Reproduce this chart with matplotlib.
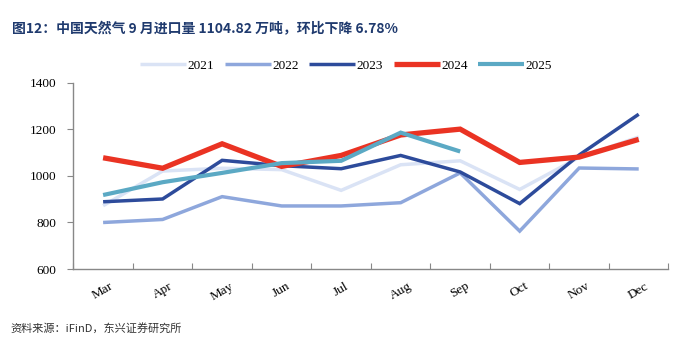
import matplotlib
matplotlib.use("Agg")
import matplotlib.pyplot as plt

# 月份与各年进口量（万吨）
months = ["Mar", "Apr", "May", "Jun", "Jul", "Aug", "Sep", "Oct", "Nov", "Dec"]
y2021 = [872, 1021, 1033, 1027, 938, 1048, 1065, 942, 1080, 1167]
y2022 = [800, 813, 911, 871, 871, 885, 1013, 763, 1034, 1030]
y2023 = [889, 901, 1067, 1044, 1031, 1088, 1017, 881, 1090, 1265]
y2024 = [1078, 1033, 1138, 1041, 1088, 1176, 1201, 1058, 1081, 1157]
y2025 = [918, 973, 1013, 1055, 1065, 1186, 1105]

series = [
    ("2021", y2021, "#dae3f5", 2.5),
    ("2022", y2022, "#8ea7dc", 2.5),
    ("2023", y2023, "#2d4b9b", 2.5),
    ("2024", y2024, "#ea3323", 3.8),
    ("2025", y2025, "#5ba9c4", 3.0),
]

serif = "Liberation Serif"

fig = plt.figure(figsize=(6.92, 3.38), dpi=100)
ax = fig.add_axes([0.106, 0.204, 0.860, 0.551])

x = list(range(len(months)))
for name, vals, color, lw in series:
    ax.plot(x[:len(vals)], vals, color=color, linewidth=lw, label=name,
            solid_joinstyle="miter", solid_capstyle="butt")

ax.set_xlim(-0.5, 9.5)
ax.set_ylim(600, 1400)
ax.set_yticks([600, 800, 1000, 1200, 1400])
ax.set_yticklabels(["600", "800", "1000", "1200", "1400"], fontfamily=serif, fontsize=9.5)

# 刻度在类别边界，标签在类别中间
ax.set_xticks([i + 0.5 for i in range(-1, 10)])
ax.set_xticklabels([])
ax.set_xticks(x, minor=True)
ax.set_xticklabels(months, minor=True, rotation=30, fontfamily=serif, fontsize=9.5)
ax.tick_params(axis="x", which="major", direction="in", length=4, color="#888888")
ax.tick_params(axis="x", which="minor", length=0, pad=8)
ax.tick_params(axis="y", direction="out", length=4, color="#888888", pad=8)

for s in ["top", "right"]:
    ax.spines[s].set_visible(False)
for s in ["left", "bottom"]:
    ax.spines[s].set_color("#888888")
    ax.spines[s].set_linewidth(1.0)

fig.legend(loc="center", bbox_to_anchor=(0.5, 0.805), ncol=5, frameon=False,
           prop={"family": serif, "size": 9.5}, handlelength=3.5,
           handletextpad=0.1, columnspacing=0.8)

fig.text(0.017, 0.915, "图12：中国天然气 9 月进口量 1104.82 万吨，环比下降 6.78%",
         fontsize=10, fontweight="bold", color="#1f3a6e",
         family=["Noto Sans CJK SC", "DejaVu Sans"], va="center")
fig.text(0.015, 0.03, "资料来源：iFinD，东兴证券研究所", fontsize=8, color="#333333",
         style="italic", family=["Noto Sans CJK SC", "DejaVu Sans"], va="center")

fig.savefig("out.png", dpi=100)
